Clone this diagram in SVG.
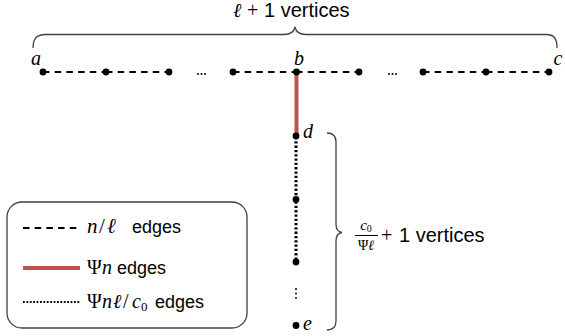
<svg xmlns="http://www.w3.org/2000/svg" width="565" height="336" viewBox="0 0 565 336">
<style>
.sans{font-family:"Liberation Sans",Arial,sans-serif;fill:#000}
.m{font-family:"Liberation Serif","DejaVu Serif",serif;font-style:italic;fill:#000}
.mu{font-family:"Liberation Serif","DejaVu Serif",serif;fill:#000}
.dash{stroke:#000;stroke-width:2;stroke-dasharray:6.5 5.2;fill:none}
.dot{stroke:#000;stroke-width:3;stroke-dasharray:2.3 2;fill:none}
.red{stroke:#c0504d;stroke-width:4;fill:none}
.brace{stroke:#404040;stroke-width:1.3;fill:none}
.v{fill:#000}
</style>
<rect width="565" height="336" fill="#fff"/>
<g id="connectors">
<line class="dash" x1="43" y1="72" x2="106" y2="72"/>
<line class="dash" x1="106" y1="72" x2="169" y2="72"/>
<line class="dash" x1="233" y1="72" x2="296" y2="72"/>
<line class="dash" x1="296" y1="72" x2="359" y2="72"/>
<line class="dash" x1="423" y1="72" x2="486" y2="72"/>
<line class="dash" x1="486" y1="72" x2="549" y2="72"/>
<line class="red" x1="296.5" y1="72" x2="296.5" y2="135"/>
<line class="dot" x1="296" y1="137" x2="296" y2="262"/>
</g>
<g id="ellipses" class="v">
<circle cx="198" cy="74" r="1"/><circle cx="201.5" cy="74" r="1"/><circle cx="205" cy="74" r="1"/>
<circle cx="389" cy="74" r="1"/><circle cx="392.5" cy="74" r="1"/><circle cx="396" cy="74" r="1"/>
<circle cx="296" cy="289" r="1"/><circle cx="296" cy="293.5" r="1"/><circle cx="296" cy="298" r="1"/>
</g>
<g id="node-a"><circle class="v" cx="43" cy="72" r="3.4"/><text class="m" x="36" y="65" font-size="20" text-anchor="middle">a</text></g>
<g id="node-2"><circle class="v" cx="106" cy="72" r="3.4"/></g>
<g id="node-3"><circle class="v" cx="169" cy="72" r="3.4"/></g>
<g id="node-4"><circle class="v" cx="233" cy="72" r="3.4"/></g>
<g id="node-b"><circle class="v" cx="296.5" cy="72" r="3.4"/><text class="m" x="299" y="65" font-size="20" text-anchor="middle">b</text></g>
<g id="node-6"><circle class="v" cx="359" cy="72" r="3.4"/></g>
<g id="node-7"><circle class="v" cx="423" cy="72" r="3.4"/></g>
<g id="node-8"><circle class="v" cx="486" cy="72" r="3.4"/></g>
<g id="node-c"><circle class="v" cx="549" cy="72" r="3.4"/><text class="m" x="558" y="65" font-size="20" text-anchor="middle">c</text></g>
<g id="node-d"><circle class="v" cx="296" cy="136" r="3.4"/><text class="m" x="303" y="138" font-size="20">d</text></g>
<g id="node-v1"><circle class="v" cx="296" cy="199.5" r="3.4"/></g>
<g id="node-v2"><circle class="v" cx="296" cy="262" r="3.4"/></g>
<g id="node-e"><circle class="v" cx="296" cy="325.5" r="3.4"/><text class="m" x="303" y="330" font-size="20">e</text></g>
<g id="top-brace">
<path class="brace" d="M33,48 C33,38 37,34.5 46,34.5 L284,34.5 C290,34.5 294,32 295,27 C296,32 300,34.5 306,34.5 L546,34.5 C554,34.5 557,38 557,48"/>
<text y="17" font-size="20"><tspan class="m" x="233">ℓ</tspan><tspan class="mu" x="247">+</tspan><tspan class="sans" x="264">1 vertices</tspan></text>
</g>
<g id="right-brace">
<path class="brace" d="M327,133 C333,133 336,136 336,142 L336,224 C336,229 338,232 342,232.5 C338,233 336,236 336,241 L336,321 C336,327 333,330 327,330"/>
<text class="m" x="366" y="230" font-size="15" text-anchor="middle">c<tspan font-size="10" dy="2" font-style="normal">0</tspan></text>
<line x1="355" y1="235.5" x2="378" y2="235.5" stroke="#000" stroke-width="1"/>
<text x="366" y="250" font-size="14" text-anchor="middle"><tspan class="mu">Ψ</tspan><tspan class="m">ℓ</tspan></text>
<text y="242" font-size="20"><tspan class="mu" x="381">+</tspan><tspan class="sans" x="399">1 vertices</tspan></text>
</g>
<g id="legend">
<rect x="7" y="202" width="240" height="126" rx="15" ry="15" fill="none" stroke="#404040" stroke-width="1.3"/>
<line class="dash" x1="23" y1="228" x2="80" y2="228"/>
<line class="red" x1="23" y1="268" x2="80" y2="268"/>
<line class="dot" x1="23" y1="302" x2="80" y2="302" style="stroke-width:2.2;stroke-dasharray:1.8 1.6"/>
<text y="233" font-size="21"><tspan class="m" x="87">n</tspan><tspan class="mu" x="99">/</tspan><tspan class="m" x="107">ℓ</tspan><tspan class="sans" x="132" font-size="18">edges</tspan></text>
<text y="274" font-size="20"><tspan class="mu" x="87">Ψ</tspan><tspan class="m" x="102">n</tspan><tspan class="sans" x="117" font-size="18">edges</tspan></text>
<text y="308" font-size="20"><tspan class="mu" x="87">Ψ</tspan><tspan class="m" x="102">n</tspan><tspan class="m" x="113">ℓ</tspan><tspan class="mu" x="123">/</tspan><tspan class="m" x="132">c</tspan><tspan class="mu" font-size="13" dy="3">0</tspan><tspan class="sans" x="155" dy="-3" font-size="18">edges</tspan></text>
</g>
</svg>
